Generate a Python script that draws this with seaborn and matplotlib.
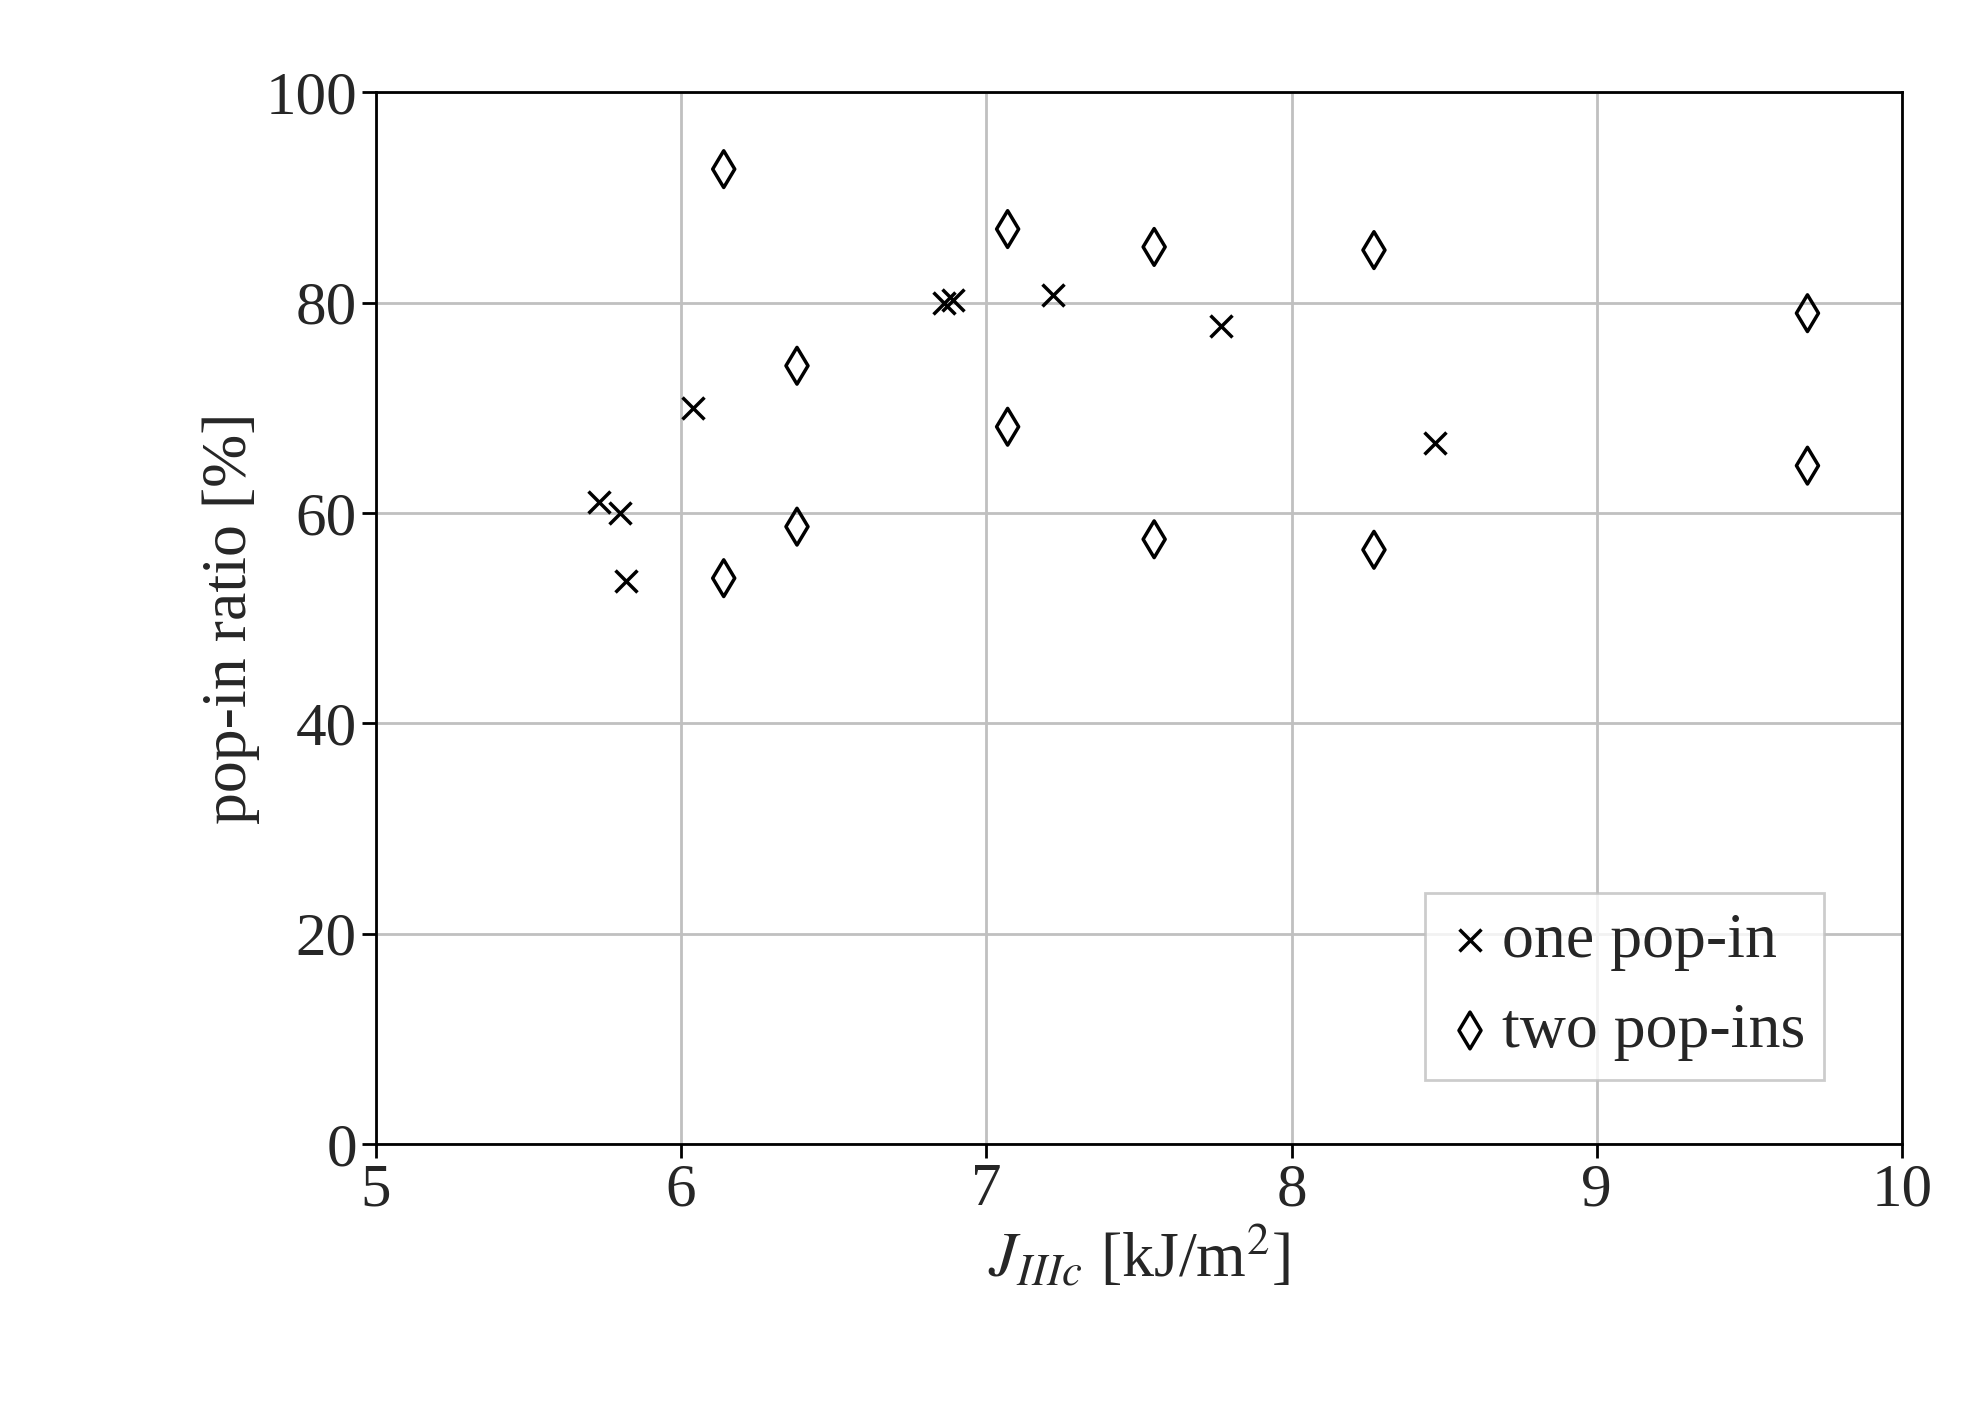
import matplotlib.pyplot as plt
import seaborn as sns

one_x = [5.73, 5.80, 5.82, 6.04, 6.86, 6.89, 7.22, 7.77, 8.47]
one_y = [61.0, 60.0, 53.5, 70.0, 80.0, 80.3, 80.7, 77.8, 66.7]
two_x = [6.14, 6.14, 6.38, 6.38, 7.07, 7.07, 7.55, 7.55, 8.27, 8.27, 9.69, 9.69]
two_y = [92.7, 53.8, 74.0, 58.7, 87.0, 68.2, 85.3, 57.5, 85.0, 56.5, 79.0, 64.5]

sns.set_style('whitegrid')
plt.rcParams['font.family'] = ['Liberation Serif', 'DejaVu Serif']
plt.rcParams['mathtext.fontset'] = 'stix'

fig = plt.figure(figsize=(19.67, 14.21), dpi=100)
ax = fig.add_axes([0.191, 0.195, 0.776, 0.74])
sns.scatterplot(x=one_x, y=one_y, marker='x', color='black', s=250, linewidth=2.5,
                ax=ax, label='one pop-in', zorder=3)
sns.scatterplot(x=two_x, y=two_y, marker='d', facecolor='none', edgecolor='black', s=350,
                linewidth=2.5, ax=ax, label='two pop-ins', zorder=3)

ax.set_xlim(5, 10)
ax.set_ylim(0, 100)
ax.set_xticks(range(5, 11))
ax.set_yticks(range(0, 101, 20))
ax.grid(color='#c0c0c0', linewidth=2)
for s in ax.spines.values():
    s.set_color('black')
    s.set_linewidth(2)
ax.tick_params(labelsize=44, length=10, width=2, direction='out', color='black', left=True, bottom=True)
ax.set_xlabel(r'$J_{IIIc}$ [kJ/m$^2$]', fontsize=46)
ax.set_ylabel('pop-in ratio [%]', fontsize=46)
leg = ax.legend(loc='lower right', bbox_to_anchor=(0.97, 0.03), fontsize=46, frameon=True,
                handletextpad=0.1, handlelength=0.8, borderpad=0.3, fancybox=False)
leg.get_frame().set_edgecolor('#c0c0c0')
leg.get_frame().set_linewidth(2)
fig.savefig('out.png')
